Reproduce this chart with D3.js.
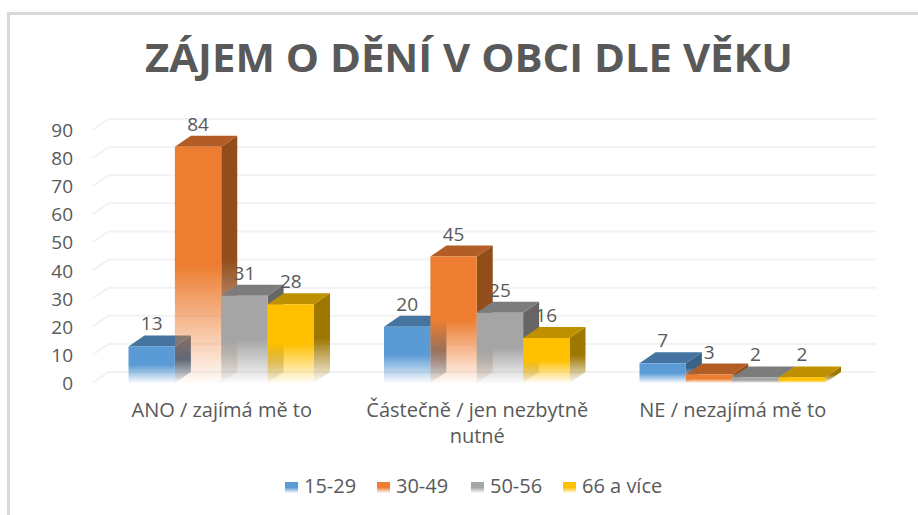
<!DOCTYPE html>
<html lang="en">
<head>
<meta charset="UTF-8">
<title>Zájem o dění v obci dle věku</title>
<script src="https://d3js.org/d3.v7.min.js"></script>
<style>
    html, body { margin: 0; padding: 0; background: white; }
    svg { display: block; font-family: "Open Sans", sans-serif; }
</style>
</head>
<body>
<svg width="918" height="515"></svg>
<script>
const categories = ["ANO / zajímá mě to", "Částečně / jen nezbytně nutné", "NE / nezajímá mě to"];
const seriesNames = ["15-29", "30-49", "50-56", "66 a více"];
const values15 = [13, 20, 7];
const values30 = [84, 45, 3];
const values50 = [31, 25, 2];
const values66 = [28, 16, 2];
const allValues = [values15, values30, values50, values66];
const yTicks = d3.range(0, 100, 10);

const frontColors = ["#5b9bd5", "#ed7d31", "#a5a5a5", "#ffc000"];
const topColors = ["#44749f", "#b25d25", "#7c7c7c", "#bf9000"];
const sideColors = ["#3a638a", "#934d1b", "#666666", "#9e7700"];
const textColor = "#595959";

const svg = d3.select("svg");
const depthX = 16, depthY = 11;

const y = d3.scaleLinear().domain([0, 90]).range([383, 130]);
const x0 = d3.scaleBand().domain(categories).range([93.5, 860]);
const x1 = d3.scaleBand().domain(seriesNames).range([35, 220.5]);

// chart frame
svg.append("path").attr("d", "M8.5,515V13.5H918").attr("fill", "none")
    .attr("stroke", "#d9d9d9").attr("stroke-width", 3);

// fading fills, bars go transparent in the lower half
const defs = svg.append("defs");
function addFade(id, color) {
    const g = defs.append("linearGradient").attr("id", id).attr("x1", 0).attr("x2", 0).attr("y1", 0).attr("y2", 1);
    g.append("stop").attr("offset", "50%").attr("stop-color", color).attr("stop-opacity", 1);
    g.append("stop").attr("offset", "100%").attr("stop-color", color).attr("stop-opacity", 0.03);
}
seriesNames.forEach((s, i) => {
    addFade("front" + i, frontColors[i]);
    addFade("side" + i, sideColors[i]);
});

// back wall gridlines and floor diagonals
const grid = svg.append("g").attr("fill", "none").attr("stroke", "#f2f2f2").attr("stroke-width", 2);
yTicks.forEach(t => {
    grid.append("path").attr("d", d3.line()([
        [x0.range()[0] - 1, y(t)],
        [x0.range()[0] + depthX - 1, y(t) - depthY],
        [x0.range()[1] + depthX, y(t) - depthY]
    ]));
});

// y axis labels
svg.append("g").selectAll("text").data(yTicks).join("text")
    .attr("x", 73).attr("y", d => y(d) + 7)
    .attr("text-anchor", "end").attr("font-size", 19).attr("fill", textColor)
    .text(d => d);

// bars, left to right
const bars = svg.append("g");
categories.forEach((c, ci) => {
    seriesNames.forEach((s, si) => {
        const v = allValues[si][ci];
        const left = x0(c) + x1(s), right = left + x1.bandwidth();
        const top = y(v), bottom = y(0);
        bars.append("path")
            .attr("d", d3.line()([[right, top], [right + depthX, top - depthY], [right + depthX, bottom - depthY], [right, bottom]]) + "Z")
            .attr("fill", `url(#side${si})`);
        bars.append("path")
            .attr("d", d3.line()([[left, top], [left + depthX, top - depthY], [right + depthX, top - depthY], [right, top]]) + "Z")
            .attr("fill", topColors[si]);
        bars.append("rect")
            .attr("x", left).attr("y", top)
            .attr("width", x1.bandwidth()).attr("height", bottom - top)
            .attr("fill", `url(#front${si})`);
    });
});

// value labels
categories.forEach((c, ci) => {
    seriesNames.forEach((s, si) => {
        const v = allValues[si][ci];
        svg.append("text")
            .attr("x", x0(c) + x1(s) + x1.bandwidth() / 2)
            .attr("y", y(v) - depthY - 5)
            .attr("text-anchor", "middle").attr("font-size", 19).attr("fill", textColor)
            .text(v);
    });
});

// category labels
const catLines = [["ANO / zajímá mě to"], ["Částečně / jen nezbytně", "nutné"], ["NE / nezajímá mě to"]];
categories.forEach((c, ci) => {
    catLines[ci].forEach((line, li) => {
        svg.append("text")
            .attr("x", x0(c) + x0.bandwidth() / 2 + 0.5)
            .attr("y", 417 + li * 26)
            .attr("text-anchor", "middle").attr("font-size", 20).attr("fill", textColor)
            .text(line);
    });
});

// title
svg.append("text").attr("x", 469).attr("y", 72)
    .attr("text-anchor", "middle").attr("font-size", 39).attr("font-weight", 700)
    .attr("fill", textColor).attr("textLength", 648).attr("lengthAdjust", "spacingAndGlyphs")
    .text("ZÁJEM O DĚNÍ V OBCI DLE VĚKU");

// legend
const legendX = [285, 377, 471, 563];
seriesNames.forEach((s, i) => {
    svg.append("rect").attr("x", legendX[i]).attr("y", 482).attr("width", 13).attr("height", 11)
        .attr("fill", `url(#front${i})`);
    svg.append("text").attr("x", legendX[i] + 19).attr("y", 493)
        .attr("font-size", 20).attr("fill", textColor).text(s);
});
</script>
</body>
</html>
